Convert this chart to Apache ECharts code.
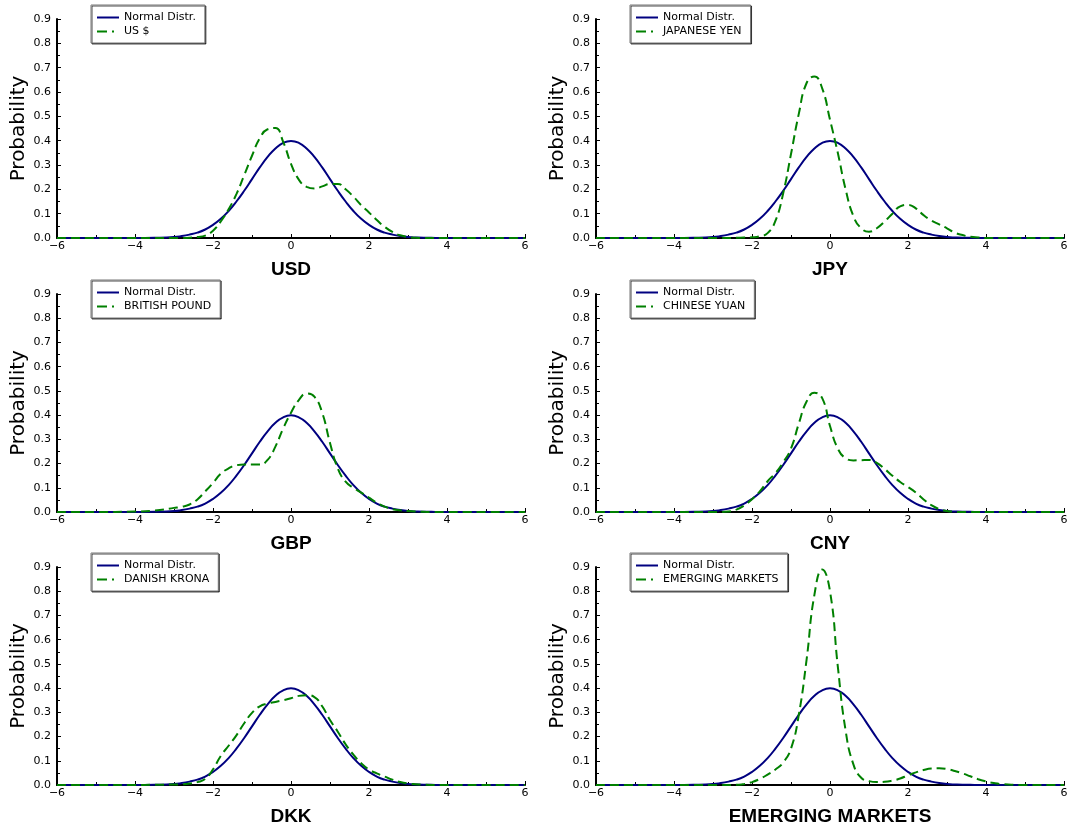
<!DOCTYPE html>
<html>
<head>
<meta charset="UTF-8">
<title>Distributions</title>
<style>
  html, body { margin: 0; padding: 0; background: #fff; }
  #main { width: 1072px; height: 830px; }
</style>
</head>
<body>
<div id="main"></div>
<script src="https://cdn.jsdelivr.net/npm/echarts@6/dist/echarts.min.js"></script>
<script>
// x positions shared by every curve
var xs = [-6, -5, -4, -3.5,
  -3, -2.8, -2.6, -2.4, -2.2, -2, -1.8, -1.6, -1.4, -1.2, -1, -0.8, -0.6, -0.4, -0.2,
  0,
  0.2, 0.4, 0.6, 0.8, 1, 1.2, 1.4, 1.6, 1.8, 2, 2.2, 2.4, 2.6, 2.8, 3, 3.2, 3.4, 3.6, 3.8, 4, 4.2, 4.4,
  5, 6];

var normalY = [0, 0, 0, 0.001,
  0.004, 0.008, 0.014, 0.022, 0.035, 0.054, 0.079, 0.111, 0.150, 0.194, 0.242, 0.290, 0.333, 0.368, 0.391,
  0.399,
  0.391, 0.368, 0.333, 0.290, 0.242, 0.194, 0.150, 0.111, 0.079, 0.054, 0.035, 0.022, 0.014, 0.008, 0.004, 0.002, 0.001, 0.001, 0, 0, 0, 0,
  0, 0];

var usdY = [0, 0, 0, 0,
  0, 0, 0.001, 0.004, 0.01, 0.03, 0.068, 0.118, 0.18, 0.258, 0.338, 0.41, 0.447, 0.452, 0.395,
  0.305,
  0.24, 0.21, 0.203, 0.212, 0.222, 0.222, 0.2, 0.17, 0.135, 0.105, 0.074, 0.046, 0.025, 0.011, 0.004, 0.001, 0, 0, 0, 0, 0, 0,
  0, 0];

var jpyY = [0, 0, 0, 0,
  0, 0, 0, 0.001, 0.002, 0.003, 0.007, 0.02, 0.07, 0.184, 0.345, 0.51, 0.637, 0.664, 0.615,
  0.486,
  0.35, 0.2, 0.09, 0.04, 0.026, 0.04, 0.068, 0.1, 0.13, 0.136, 0.122, 0.094, 0.072, 0.056, 0.04, 0.022, 0.012, 0.005, 0.002, 0, 0, 0,
  0, 0];

var gbpY = [0, 0, 0.002, 0.006,
  0.017, 0.022, 0.031, 0.052, 0.085, 0.12, 0.158, 0.18, 0.193, 0.196, 0.196, 0.196, 0.215, 0.27, 0.345,
  0.41,
  0.462, 0.489, 0.476, 0.41, 0.285, 0.18, 0.125, 0.1, 0.08, 0.059, 0.038, 0.022, 0.012, 0.007, 0.004, 0.002, 0.001, 0, 0, 0, 0, 0,
  0, 0];

var cnyY = [0, 0, 0, 0,
  0, 0, 0.002, 0.01, 0.027, 0.053, 0.085, 0.127, 0.16, 0.205, 0.262, 0.365, 0.456, 0.492, 0.47,
  0.355,
  0.262, 0.222, 0.213, 0.214, 0.215, 0.203, 0.178, 0.15, 0.124, 0.103, 0.08, 0.052, 0.028, 0.012, 0.004, 0.001, 0, 0, 0, 0, 0, 0,
  0, 0];

var dkkY = [0, 0, 0, 0.001,
  0.002, 0.003, 0.006, 0.012, 0.025, 0.065, 0.12, 0.162, 0.205, 0.255, 0.298, 0.325, 0.336, 0.343, 0.35,
  0.358,
  0.368, 0.371, 0.363, 0.325, 0.268, 0.22, 0.168, 0.125, 0.09, 0.064, 0.048, 0.035, 0.022, 0.012, 0.006, 0.003, 0.001, 0, 0, 0, 0, 0,
  0, 0];

var emY = [0, 0, 0, 0,
  0, 0, 0, 0.001, 0.004, 0.012, 0.025, 0.043, 0.064, 0.093, 0.15, 0.29, 0.518, 0.785, 0.89,
  0.80,
  0.49, 0.225, 0.085, 0.03, 0.016, 0.012, 0.013, 0.018, 0.027, 0.04, 0.052, 0.062, 0.068, 0.069, 0.066, 0.058, 0.048, 0.036, 0.024, 0.015, 0.008, 0.004,
  0, 0];

var codes = ['USD', 'JPY', 'GBP', 'CNY', 'DKK', 'EMERGING MARKETS'];
var names = ['US $', 'JAPANESE YEN', 'BRITISH POUND', 'CHINESE YUAN', 'DANISH KRONA', 'EMERGING MARKETS'];
var curves = [usdY, jpyY, gbpY, cnyY, dkkY, emY];
var yTicks = [0, 0.1, 0.2, 0.3, 0.4, 0.5, 0.6, 0.7, 0.8, 0.9];

// layout of the 3x2 panels
var colLeft = [57, 596];
var rowTop = [19, 294, 567];
var rowHeight = [219, 218, 218];

function pairs(ys) {
  return xs.map(function (x, i) { return [x, ys[i]]; });
}

var grid = [], xAxis = [], yAxis = [], series = [], legend = [];

codes.forEach(function (code, i) {
  var r = Math.floor(i / 2), c = i % 2;
  grid.push({ left: colLeft[c], top: rowTop[r], width: 468, height: rowHeight[r] });

  xAxis.push({
    type: 'value', gridIndex: i, min: -6, max: 6, interval: 2,
    name: code, nameLocation: 'middle', nameGap: 22,
    nameTextStyle: { fontFamily: 'Liberation Sans', fontWeight: 'bold', fontSize: 19, color: '#000' },
    axisLine: { show: true, onZero: false, lineStyle: { color: '#000', width: 2 } },
    axisTick: { show: true, inside: true, length: 4, lineStyle: { color: '#000' } },
    minorTick: { show: true, splitNumber: 2, length: 3, lineStyle: { color: '#000' } },
    splitLine: { show: false },
    axisLabel: {
      margin: 3, fontFamily: 'DejaVu Sans', fontSize: 11, color: '#000',
      formatter: function (v) { return v < 0 ? '\u2212' + (-v) : String(v); }
    }
  });

  yAxis.push({
    type: 'value', gridIndex: i, min: yTicks[0], max: yTicks[yTicks.length - 1], interval: 0.1,
    name: 'Probability', nameLocation: 'middle', nameGap: 28,
    nameTextStyle: { fontFamily: 'DejaVu Sans', fontSize: 20, color: '#000' },
    axisLine: { show: true, onZero: false, lineStyle: { color: '#000', width: 2 } },
    axisTick: { show: true, inside: true, length: 4, lineStyle: { color: '#000' } },
    minorTick: { show: true, splitNumber: 2, length: 3, lineStyle: { color: '#000' } },
    splitLine: { show: false },
    axisLabel: {
      margin: 6, fontFamily: 'DejaVu Sans', fontSize: 11, color: '#000',
      formatter: function (v) { return v.toFixed(1); }
    }
  });

  series.push({
    type: 'line', name: 'Normal Distr.', xAxisIndex: i, yAxisIndex: i,
    data: pairs(normalY), smooth: true, symbol: 'none', showSymbol: false, z: 2,
    lineStyle: { color: '#000080', width: 2 }, itemStyle: { color: '#000080' }
  });
  series.push({
    type: 'line', name: names[i], xAxisIndex: i, yAxisIndex: i,
    data: pairs(curves[i]), smooth: true, symbol: 'none', showSymbol: false, z: 3,
    lineStyle: { color: '#008000', width: 2, type: [9, 5] }, itemStyle: { color: '#008000' }
  });

  legend.push({
    orient: 'vertical', left: colLeft[c] + 34, top: rowTop[r] - 14,
    itemWidth: 22, itemHeight: 10, itemGap: 3, padding: [7, 9, 6, 5],
    backgroundColor: '#fff', borderColor: '#777', borderWidth: 1,
    shadowColor: 'rgba(0,0,0,0.7)', shadowOffsetX: 1, shadowOffsetY: 1, shadowBlur: 0,
    selectedMode: false,
    itemStyle: { opacity: 0 },
    textStyle: { fontFamily: 'DejaVu Sans', fontSize: 11, color: '#000' },
    data: [
      { name: 'Normal Distr.' },
      { name: names[i], lineStyle: { type: [10, 5, 2, 30] } }
    ]
  });
});

var myChart = echarts.init(document.getElementById('main'));
myChart.setOption({
  animation: false,
  backgroundColor: '#fff',
  grid: grid,
  xAxis: xAxis,
  yAxis: yAxis,
  legend: legend,
  series: series
});
</script>
</body>
</html>
